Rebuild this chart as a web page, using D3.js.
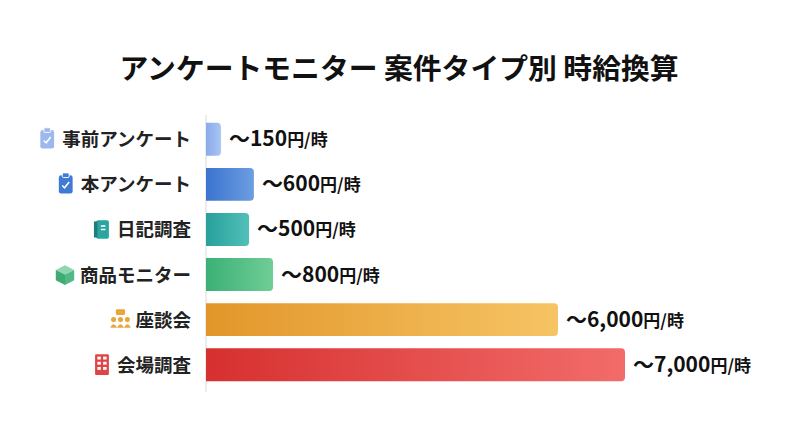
<!DOCTYPE html><html><head><meta charset="utf-8">
<script src="https://cdn.jsdelivr.net/npm/d3@7"></script>
<style>body{margin:0;background:#fff}</style></head><body>
<svg id="c" width="800" height="446"></svg>
<script>
const categories=["事前アンケート","本アンケート","日記調査","商品モニター","座談会","会場調査"];
const valueLabels=["～150","～600","～500","～800","～6,000","～7,000"];
// bar lengths as drawn in the reference (display scale, not strictly proportional to labels)
const barValues=[250,800,720,1120,5880,7000];
const colorsFrom=["#8aaaea","#3b74cf","#27a09c","#3bb076","#e2962a","#d6302f"];
const colorsTo=["#a9c5f3","#6d9ee2","#52c0b8","#6fcd95","#f6c464","#f26c6a"];
const iconColors=["#9cb8ee","#3f7bd4","#2aa6a0","#52b886","#eba53c","#e04545"];
const svg=d3.select("#c");
const F="'Noto Sans CJK JP','Noto Sans',sans-serif";
svg.append("text").attr("x",399).attr("y",79).attr("text-anchor","middle").attr("font-family",F).attr("font-weight",700).attr("font-size",28.8).attr("fill","#111").text("アンケートモニター 案件タイプ別 時給換算");
const x=d3.scaleLinear().domain([0,7000]).range([206,625]);
const y=d3.scaleBand().domain(categories).range([117,387]).paddingInner(0.27).paddingOuter(0.13);
const defs=svg.append("defs");
categories.forEach((c,i)=>{const g=defs.append("linearGradient").attr("id","g"+i);
g.append("stop").attr("offset","0").attr("stop-color",colorsFrom[i]);g.append("stop").attr("offset","1").attr("stop-color",colorsTo[i]);});
svg.append("line").attr("x1",206).attr("x2",206).attr("y1",115).attr("y2",392).attr("stroke","#e6e6e6").attr("stroke-width",1.5);
const r=4;
svg.selectAll(".bar").data(categories).join("path").attr("fill",(d,i)=>`url(#g${i})`)
 .attr("d",(d,i)=>{const x0=x(0),x1=x(barValues[i]),y0=y(d),h=y.bandwidth();
  return `M${x0},${y0}H${x1-r}Q${x1},${y0} ${x1},${y0+r}V${y0+h-r}Q${x1},${y0+h} ${x1-r},${y0+h}H${x0}Z`;});
categories.forEach((c,i)=>{const cy=y(c)+y.bandwidth()/2;
 const t=svg.append("text").attr("x",x(barValues[i])+8).attr("y",cy+7).attr("font-family",F).attr("font-weight",700).attr("fill","#111");
 t.append("tspan").attr("font-size",21).text(valueLabels[i]);
 t.append("tspan").attr("font-size",17).text("円/時");
 const lt=svg.append("text").attr("x",191).attr("y",cy+7).attr("text-anchor","end").attr("font-family",F).attr("font-weight",700).attr("font-size",18.5).attr("fill","#222").text(c);
 const w=lt.node().getComputedTextLength(); const ix=191-w-15, col=iconColors[i];
 const g=svg.append("g").attr("transform",`translate(${ix},${cy}) scale(1.15)`);
 if(i<2){g.append("rect").attr("x",-6).attr("y",-8).attr("width",12).attr("height",16).attr("rx",2).attr("fill",col);
  g.append("rect").attr("x",-3).attr("y",-10).attr("width",6).attr("height",4).attr("rx",1).attr("fill",col).attr("stroke","#fff").attr("stroke-width",0.8);
  g.append("path").attr("d","M-3,1L-1,3L3,-2").attr("fill","none").attr("stroke","#fff").attr("stroke-width",1.4);}
 else if(i==2){g.append("rect").attr("x",-5).attr("y",-8).attr("width",11).attr("height",16).attr("rx",1.5).attr("fill",col);
  g.append("rect").attr("x",-7).attr("y",-7).attr("width",3).attr("height",14).attr("fill","#1d7f7b");
  g.append("path").attr("d","M-1,-3H3M-1,0H3").attr("stroke","#fff").attr("stroke-width",1.2);}
 else if(i==3){g.append("path").attr("d","M0,-8L8,-4L0,0L-8,-4Z").attr("fill","#8fd6ae");
  g.append("path").attr("d","M-8,-4L0,0V9L-8,5Z").attr("fill","#3faa72");g.append("path").attr("d","M8,-4L0,0V9L8,5Z").attr("fill",col);}
 else if(i==4){g.append("rect").attr("x",-4).attr("y",-9).attr("width",8).attr("height",5).attr("rx",1).attr("fill",col);
  [-6,0,6].forEach(dx=>{g.append("circle").attr("cx",dx).attr("cy",0).attr("r",2.2).attr("fill",col);
   g.append("path").attr("d",`M${dx-3},7Q${dx},1 ${dx+3},7Z`).attr("fill",col);});}
 else {g.append("rect").attr("x",-6).attr("y",-9).attr("width",12).attr("height",18).attr("rx",1).attr("fill",col);
  for(let a=0;a<3;a++)for(let b=0;b<2;b++)g.append("rect").attr("x",-4+b*5).attr("y",-7+a*4.5).attr("width",3).attr("height",2.5).attr("fill","#fff");}
});
</script></body></html>
